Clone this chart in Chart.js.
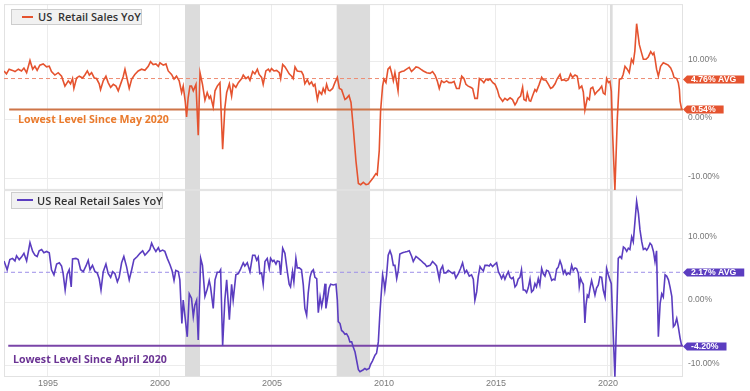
<!DOCTYPE html>
<html><head><meta charset="utf-8">
<script src="https://cdn.jsdelivr.net/npm/chart.js@4.4.0/dist/chart.umd.min.js"></script>
<style>
html,body{margin:0;padding:0;background:#fff;width:750px;height:391px;overflow:hidden;position:relative;font-family:"Open Sans",sans-serif;}
canvas{position:absolute;left:0;}
#cTop{top:0;z-index:1;}
#cBot{top:186px;z-index:2;}
.legend{position:absolute;background:#f1f1f1;border:1px solid #cdcdcd;box-sizing:border-box;z-index:5;}
.legend .sw{position:absolute;height:2px;}
.legend .tx{position:absolute;white-space:pre;font-family:"Open Sans";font-weight:600;font-size:11px;color:#333;}
.note{position:absolute;white-space:nowrap;font-family:"Open Sans";font-weight:700;font-size:10.6px;line-height:14px;z-index:5;}
</style></head><body>
<canvas id="cTop" width="750" height="192"></canvas>
<canvas id="cBot" width="750" height="205"></canvas>
<div class="legend" style="left:11px;top:9px;width:131px;height:16px">
  <div class="sw" style="left:10px;top:6px;width:11px;background:#E5532F"></div>
  <div class="tx" style="left:26px;top:0;line-height:14px">US  Retail Sales YoY</div>
</div>
<div class="legend" style="left:11px;top:192px;width:152px;height:17px">
  <div class="sw" style="left:5px;top:6px;width:16px;background:#5B3DC0"></div>
  <div class="tx" style="left:25px;top:0;line-height:15px">US Real Retail Sales YoY</div>
</div>
<div class="note" style="left:18px;top:112px;color:#EA7A2C">Lowest Level Since May 2020</div>
<div class="note" style="left:13px;top:352px;color:#6B3494">Lowest Level Since April 2020</div>
<script>
// ---- data ----
const xMin = 1993.04, xMax = 2023.35;
const yearTicks = [1995, 2000, 2005, 2010, 2015, 2020];
const pctTicks = [-10, 0, 10];
const recessionStart = [2001.12, 2007.89, 2020.09];
const recessionEnd   = [2001.79, 2009.38, 2020.21];

const retailDates = [
1993.04,1993.15,1993.27,1993.42,1993.53,1993.68,1993.82,1993.93,1994.05,1994.20,
1994.32,1994.42,1994.52,1994.64,1994.79,1994.94,1995.06,1995.16,1995.31,1995.46,
1995.61,1995.76,1995.91,1996.01,1996.10,1996.16,1996.28,1996.40,1996.55,1996.65,
1996.76,1996.85,1996.95,1997.07,1997.17,1997.29,1997.35,1997.47,1997.59,1997.69,
1997.80,1997.92,1998.04,1998.14,1998.24,1998.36,1998.44,1998.51,1998.63,1998.74,
1998.88,1999.03,1999.18,1999.33,1999.48,1999.58,1999.70,1999.82,1999.93,2000.00,
2000.15,2000.27,2000.37,2000.52,2000.63,2000.74,2000.86,2000.97,2001.04,2001.13,
2001.19,2001.26,2001.34,2001.41,2001.49,2001.61,2001.71,2001.79,2001.90,2002.01,
2002.11,2002.20,2002.26,2002.38,2002.46,2002.56,2002.68,2002.80,2002.90,2002.98,
2003.10,2003.20,2003.27,2003.39,2003.50,2003.65,2003.72,2003.84,2003.94,
2004.02,2004.14,2004.24,2004.35,2004.43,2004.54,2004.61,2004.73,2004.84,2004.91,
2004.98,2005.09,2005.21,2005.33,2005.39,2005.48,2005.58,2005.68,2005.77,2005.88,
2005.95,2006.03,2006.13,2006.25,2006.32,2006.40,2006.47,2006.58,2006.67,2006.77,
2006.85,2006.92,2007.03,2007.11,2007.22,2007.29,2007.37,2007.44,2007.52,2007.59,
2007.71,2007.81,2007.92,2008.01,2008.11,2008.18,2008.26,2008.33,2008.44,2008.53,
2008.63,2008.75,2008.86,2008.96,2009.08,2009.20,2009.30,2009.40,2009.52,2009.64,
2009.70,2009.79,2009.85,2009.94,2010.00,2010.09,2010.18,2010.27,2010.34,2010.42,
2010.49,2010.57,2010.63,2010.68,2010.79,2010.89,2011.01,2011.13,2011.23,2011.34,
2011.43,2011.53,2011.64,2011.76,2011.91,2012.06,2012.17,2012.28,2012.38,2012.47,
2012.57,2012.68,2012.80,2012.90,2013.02,2013.13,2013.24,2013.36,2013.47,2013.57,
2013.66,2013.76,2013.87,2013.96,2014.06,2014.17,2014.26,2014.36,2014.46,2014.56,
2014.65,2014.74,2014.86,2014.96,2015.06,2015.15,
2015.30,2015.40,2015.51,2015.63,2015.74,2015.85,2015.92,2015.99,2016.10,2016.19,
2016.25,2016.34,2016.40,2016.49,2016.55,2016.64,2016.74,2016.81,2016.93,2017.04,
2017.11,2017.23,2017.33,2017.44,2017.53,2017.64,2017.74,2017.86,2017.93,2018.04,
2018.13,2018.23,2018.33,2018.42,2018.53,2018.63,2018.72,2018.83,2018.90,2018.97,
2019.08,2019.17,2019.23,2019.32,2019.42,2019.50,2019.61,2019.72,2019.79,2019.87,
2019.94,2020.02,2020.09,2020.15,2020.21,2020.31,2020.42,2020.51,2020.61,2020.68,
2020.76,2020.86,2020.95,2021.05,2021.13,2021.20,2021.28,2021.40,2021.50,2021.58,
2021.70,2021.80,2021.91,2022.00,2022.05,2022.10,2022.17,2022.25,2022.35,2022.47,
2022.59,2022.69,2022.80,2022.89,2022.95,2023.07,2023.14,2023.19,2023.22,2023.29
];
const retailYoY = [
8.4,7.9,8.7,8.5,8.3,8.7,8.4,8.9,8.1,10.2,
8.7,9.2,8.5,9.4,9.6,9.1,9.2,8.3,7.7,8.1,
7.5,5.8,6.7,6.2,7.1,5.4,7.2,7.5,7.2,7.7,
8.4,7.7,8.1,7.2,7.1,6.2,5.2,6.7,7.5,6.4,
5.6,6.1,5.8,5.0,6.1,7.4,8.7,7.5,5.4,7.0,
7.8,8.4,8.7,8.5,9.2,10.0,9.5,9.6,9.2,9.8,
9.4,9.6,8.4,7.8,7.0,7.5,6.7,4.7,5.8,3.2,
0.5,3.8,5.8,5.8,5.0,6.1,-2.6,8.1,6.1,3.4,
4.7,3.7,4.1,2.2,5.0,5.8,6.4,-5.0,2.1,4.7,
6.2,4.1,6.1,5.6,6.4,7.1,7.7,7.1,7.4,
6.8,8.3,7.9,8.7,7.8,7.3,6.1,8.4,8.7,8.3,
8.8,8.4,8.5,8.1,7.1,9.5,9.1,8.5,7.9,7.5,
7.1,9.1,8.4,8.3,8.3,7.7,6.2,6.9,6.1,6.5,
5.8,6.1,3.5,4.9,4.4,5.4,4.7,6.1,5.1,5.0,
5.4,6.4,7.3,5.4,5.2,4.4,3.5,3.7,4.2,3.0,
-1.3,-7.0,-10.9,-11.1,-10.7,-11.1,-11.0,-10.5,-9.9,-9.2,
-9.4,-5.3,1.5,5.8,7.0,6.4,8.7,9.1,8.1,6.7,
8.1,6.4,5.0,8.1,8.3,8.4,8.7,9.0,8.3,8.7,
9.1,9.0,8.7,8.4,8.1,8.0,8.3,7.7,6.7,5.4,
6.7,6.4,6.7,6.4,6.4,6.6,5.4,5.4,7.5,7.1,
6.1,5.8,5.6,5.4,3.7,3.7,7.1,6.8,6.4,7.0,
6.8,7.0,6.4,6.1,5.2,4.0,
3.2,3.7,3.4,3.8,3.5,2.6,3.0,3.7,4.1,5.6,
3.5,3.3,4.6,3.3,3.2,4.2,5.2,4.9,6.1,7.3,
6.9,6.8,6.2,5.4,5.6,6.2,7.1,7.8,6.8,6.9,
6.7,6.9,7.9,7.3,7.7,7.5,5.4,5.8,4.8,1.7,
3.8,3.5,5.4,5.6,4.4,4.8,5.2,5.8,4.6,4.4,
7.1,6.4,6.6,4.9,-2.5,-12.0,0.4,7.0,7.1,7.8,
9.2,8.7,8.1,10.4,9.8,11.8,16.5,12.9,11.5,10.4,
10.4,10.8,11.7,11.2,11.5,10.5,8.7,7.5,9.2,9.8,
9.6,9.4,8.9,8.1,7.3,7.1,6.4,5.2,3.2,1.8
];

const realDates = [
1993.04,1993.18,1993.30,1993.42,1993.53,1993.60,1993.72,1993.82,1993.93,1994.05,
1994.20,1994.32,1994.42,1994.52,1994.61,1994.72,1994.82,1994.94,1995.06,1995.16,
1995.27,1995.39,1995.51,1995.61,1995.68,1995.77,1995.86,1995.95,1996.04,1996.10,
1996.25,1996.35,1996.46,1996.58,1996.70,1996.80,1996.88,1996.99,1997.10,1997.20,
1997.29,1997.37,1997.47,1997.59,1997.69,1997.80,1997.89,1997.99,1998.10,1998.18,
1998.29,1998.39,1998.51,1998.63,1998.74,1998.84,1998.99,1999.11,1999.23,1999.33,
1999.43,1999.55,1999.63,1999.73,1999.82,1999.93,2000.00,2000.12,2000.22,2000.33,
2000.45,2000.54,2000.63,2000.71,2000.82,2000.89,2000.98,2001.04,2001.12,2001.22,
2001.31,2001.41,2001.49,2001.56,2001.64,2001.71,2001.82,2001.90,2002.01,2002.11,
2002.20,2002.26,2002.38,2002.46,2002.56,2002.65,2002.71,2002.80,2002.90,2002.98,
2003.10,2003.20,2003.27,2003.39,2003.50,2003.60,2003.72,2003.79,2003.90,
2004.02,2004.14,2004.24,2004.32,2004.39,2004.46,2004.54,2004.61,2004.69,2004.79,
2004.88,2004.94,2005.03,2005.09,2005.18,2005.24,2005.33,2005.39,2005.48,2005.58,
2005.68,2005.77,2005.83,2005.92,2005.98,2006.07,2006.13,2006.22,2006.32,2006.40,
2006.47,2006.55,2006.62,2006.70,2006.77,2006.85,2006.92,2007.00,2007.07,2007.15,
2007.22,2007.29,2007.37,2007.41,2007.47,2007.55,2007.62,2007.74,2007.86,2007.92,
2007.96,2008.04,2008.11,2008.18,2008.26,2008.33,2008.41,2008.48,2008.56,2008.63,
2008.71,2008.78,2008.86,2008.93,2009.08,2009.15,2009.22,2009.34,2009.40,2009.49,
2009.60,2009.67,2009.75,2009.82,2009.94,2010.00,2010.04,2010.12,2010.19,2010.27,
2010.34,2010.42,2010.49,2010.57,2010.64,2010.71,2010.83,2010.94,2011.04,2011.13,
2011.24,2011.31,2011.43,2011.54,2011.64,2011.76,2011.83,2011.91,2012.06,2012.17,
2012.28,2012.35,2012.47,2012.53,2012.62,2012.68,2012.77,2012.87,2012.95,2013.07,
2013.13,2013.21,2013.32,2013.42,2013.51,2013.61,2013.69,2013.81,2013.91,2013.99,
2014.06,2014.14,2014.21,2014.29,2014.36,2014.44,2014.51,2014.62,2014.70,2014.76,
2014.85,2014.96,2015.03,2015.11,2015.18,
2015.25,2015.33,2015.40,2015.48,2015.55,2015.63,2015.70,2015.77,2015.85,2015.92,
2015.99,2016.07,2016.14,2016.22,2016.29,2016.37,2016.44,2016.52,2016.59,2016.67,
2016.74,2016.81,2016.89,2016.96,2017.04,2017.11,2017.19,2017.26,2017.34,2017.41,
2017.49,2017.56,2017.63,2017.71,2017.78,2017.86,2017.93,2018.01,2018.08,2018.15,
2018.23,2018.30,2018.38,2018.45,2018.53,2018.60,2018.68,2018.72,2018.78,2018.84,
2018.90,2018.97,2019.02,2019.08,2019.14,2019.20,2019.27,2019.35,2019.42,2019.49,
2019.57,2019.64,2019.72,2019.79,2019.87,2019.94,2020.01,2020.09,2020.15,2020.24,
2020.31,2020.38,2020.46,2020.54,2020.61,2020.69,2020.76,2020.84,2020.91,2020.98,
2021.06,2021.13,2021.21,2021.28,2021.36,2021.43,2021.51,2021.58,2021.66,2021.73,
2021.80,2021.88,2021.95,2022.03,2022.10,2022.17,2022.25,2022.33,2022.40,2022.47,
2022.55,2022.62,2022.70,2022.77,2022.85,2022.92,2022.99,2023.07,2023.14,2023.22,
2023.29
];
const realYoY = [
6.5,5.1,6.7,6.9,6.5,7.3,6.7,7.1,7.7,6.5,
9.4,8.0,7.4,7.2,8.1,8.3,7.8,8.0,7.8,5.1,
4.3,6.0,6.2,5.7,4.5,1.9,4.4,5.1,2.4,6.8,
6.9,6.7,5.1,4.8,5.7,6.6,5.1,5.8,4.8,4.6,
3.7,1.9,4.8,6.0,4.5,3.9,4.8,4.5,3.2,3.9,
6.2,7.2,5.6,3.5,5.1,6.7,7.2,7.7,8.1,7.4,
7.8,8.3,9.3,8.5,8.0,8.6,8.0,8.2,8.0,6.9,
5.9,5.0,3.4,5.0,4.8,3.5,-3.4,0.3,-2.3,-5.5,
1.3,0.6,-2.3,-0.5,0.3,-6.0,6.9,5.8,0.9,2.0,
3.4,2.4,-1.0,3.5,4.7,4.7,5.1,-6.9,0.4,3.5,
-2.8,2.8,0.3,4.3,4.5,5.2,6.2,5.7,6.2,
4.8,7.4,7.4,6.6,7.1,4.5,4.6,2.8,6.4,6.9,
5.3,6.9,6.4,6.6,6.0,6.5,6.4,4.3,8.5,7.7,
5.0,2.8,2.4,4.8,3.2,6.9,5.4,5.4,5.1,2.7,
-1.0,-2.1,1.4,3.9,4.8,5.1,3.9,3.7,-1.7,0.8,
-0.7,0.6,2.9,-1.0,0.3,2.2,2.8,2.7,2.8,0.3,
-3.1,-3.4,-4.5,-4.7,-5.1,-5.0,-5.5,-6.3,-6.3,-7.1,
-7.9,-9.2,-10.7,-11.0,-10.7,-10.5,-10.7,-10.5,-9.9,-9.3,
-8.4,-8.1,-6.3,-1.8,4.3,3.2,1.9,4.3,7.4,8.1,
7.4,5.8,5.8,3.7,5.0,7.6,7.8,7.9,8.0,8.1,
7.2,6.4,7.2,6.9,6.6,6.2,6.0,5.6,5.8,6.4,
6.0,5.7,3.6,5.1,5.7,4.6,4.6,5.0,4.8,4.5,
4.7,3.8,4.5,5.3,6.2,4.6,5.0,4.1,4.3,3.6,
0.3,1.6,4.0,5.6,5.2,4.9,5.8,5.8,5.7,6.0,
5.6,6.0,6.2,4.8,4.3,
3.7,4.3,3.6,4.3,4.8,3.9,3.7,3.9,2.4,2.7,
3.6,3.9,5.1,1.9,1.9,1.5,2.2,3.6,1.6,1.9,
2.9,2.4,3.7,2.7,5.3,4.5,4.1,5.0,4.9,4.3,
3.4,3.6,3.5,5.2,5.5,6.5,5.8,4.5,5.0,4.3,
4.6,4.4,5.8,5.0,5.4,5.3,4.5,2.4,3.7,3.2,
2.8,-3.3,-0.5,1.1,0.8,2.2,3.4,2.2,1.1,2.2,
2.7,4.0,3.9,1.9,0.8,5.3,4.4,3.5,2.9,-5.5,
-11.8,-3.4,6.9,7.2,6.9,8.7,8.5,8.0,8.5,8.3,
10.3,9.5,12.9,15.9,14.0,11.4,9.5,8.3,8.5,8.2,
8.6,9.3,9.0,8.0,6.4,8.1,-5.5,-0.2,1.3,0.8,
4.3,4.1,3.5,2.4,0.9,-3.9,-3.6,-2.6,-3.9,-5.7,
-6.9
];

// reference levels, as positioned in the picture, and their tag texts
const retailRefTags = ['4.76% AVG', '0.54%'];
const retailRefLevels = [7.1, 1.8];
const retailLowStart = 1993.27;
const realRefTags = ['2.17% AVG', '-4.20%'];
const realRefLevels = [4.7, -6.9];
const realLowStart = 1993.23;

// ---- drawing ----
const decor = {
  id: 'decor',
  beforeDatasetsDraw(chart, args, o) {
    const {ctx, chartArea: a, scales: {x}} = chart;
    ctx.save();
    ctx.fillStyle = '#dcdcdc';
    recessionStart.forEach((s, i) => {
      const x0 = x.getPixelForValue(s), x1 = x.getPixelForValue(recessionEnd[i]);
      ctx.fillRect(x0, a.top, Math.max(x1 - x0, 2.5), a.bottom - a.top);
    });
    ctx.strokeStyle = '#e2e2e2'; ctx.lineWidth = 1;
    ctx.strokeRect(a.left + 0.5, a.top + 0.5, a.right - a.left - 1, a.bottom - a.top - 1);
    ctx.restore();
  },
  afterDraw(chart, args, o) {
    const {ctx, chartArea: a, scales: {y}} = chart;
    ctx.save();
    ctx.font = 'bold 8.7px "Liberation Sans"';
    o.tags.forEach((t, i) => {
      const py = Math.round(y.getPixelForValue(o.levels[i])) + 0.5;
      const tw = ctx.measureText(t).width;
      const x0 = a.right, w = tw + 16, h = 8;
      ctx.fillStyle = o.color;
      ctx.beginPath();
      ctx.moveTo(x0, py);
      ctx.lineTo(x0 + 4, py - h / 2);
      ctx.lineTo(x0 + w, py - h / 2);
      ctx.lineTo(x0 + w, py + h / 2);
      ctx.lineTo(x0 + 4, py + h / 2);
      ctx.closePath();
      ctx.fill();
      ctx.fillStyle = '#fff';
      ctx.textBaseline = 'middle';
      ctx.textAlign = 'left';
      ctx.fillText(t, x0 + 8, py + 0.5);
    });
    ctx.restore();
  }
};

function buildConfig(cfg) {
  const pts = cfg.dates.map((d, i) => ({x: d, y: cfg.values[i]}));
  return {
    type: 'line',
    data: {
      datasets: [
        {data: pts, borderColor: cfg.color, borderWidth: 1.6, pointRadius: 0, tension: 0, fill: false, order: 0},
        {data: [{x: xMin, y: cfg.levels[0]}, {x: xMax, y: cfg.levels[0]}], borderColor: cfg.avgColor,
         borderWidth: 1, borderDash: [4, 3], pointRadius: 0, order: 2},
        {data: [{x: cfg.lowStart, y: cfg.levels[1]}, {x: xMax, y: cfg.levels[1]}], borderColor: cfg.lowColor,
         borderWidth: 2, pointRadius: 0, order: 1}
      ]
    },
    options: {
      responsive: false, maintainAspectRatio: false, animation: false, devicePixelRatio: 1,
      layout: {padding: {left: 4, top: 0, right: 0, bottom: 0}},
      plugins: {legend: {display: false}, tooltip: {enabled: false},
                decor: {tags: cfg.tags, levels: cfg.levels, color: cfg.color}},
      scales: {
        x: {
          type: 'linear', min: xMin, max: xMax,
          afterBuildTicks: s => { s.ticks = yearTicks.map(v => ({value: v})); },
          ticks: {display: cfg.showX, callback: v => String(v), color: '#7a7a7a', padding: 1,
                  font: {family: 'Liberation Sans', size: 9}, maxRotation: 0},
          grid: {color: '#ececec', drawTicks: false},
          border: {display: false},
          afterFit: s => { s.height = cfg.xHeight; }
        },
        y: {
          position: 'right', min: cfg.yMin, max: cfg.yMax,
          afterBuildTicks: s => { s.ticks = pctTicks.map(v => ({value: v})); },
          ticks: {callback: v => v.toFixed(2) + '%', color: '#777', padding: 5, labelOffset: -2,
                  font: {family: 'Liberation Sans', size: 8.5}},
          grid: {color: '#ececec', drawTicks: false},
          border: {display: false},
          afterFit: s => { s.width = 67; }
        }
      }
    },
    plugins: [decor]
  };
}

// place the plot area of a chart between two page rows (layout only)
function placeChart(id, cfg, areaTop, areaBottom) {
  const cv = document.getElementById(id);
  let chart = new Chart(cv, buildConfig(cfg));
  const a = chart.chartArea, H = chart.height;
  const topM = a.top, botM = H - a.bottom;
  chart.destroy();
  const newH = Math.round(areaBottom - areaTop + topM + botM);
  cv.width = 750; cv.height = newH;
  cv.style.top = (areaTop - topM) + 'px';
  chart = new Chart(cv, buildConfig(cfg));
  return chart;
}

placeChart('cTop', {
  dates: retailDates, values: retailYoY, color: '#E5532F', avgColor: '#EE8C72', lowColor: '#CE7548',
  tags: retailRefTags, levels: retailRefLevels, lowStart: retailLowStart,
  yMin: -11.99, yMax: 19.86, showX: false, xHeight: 0
}, 4, 190);
placeChart('cBot', {
  dates: realDates, values: realYoY, color: '#5B3DC0', avgColor: '#9D8FE8', lowColor: '#7A45A8',
  tags: realRefTags, levels: realRefLevels, lowStart: realLowStart,
  yMin: -11.85, yMax: 17.69, showX: true, xHeight: 14
}, 190, 377);
</script>
</body></html>
